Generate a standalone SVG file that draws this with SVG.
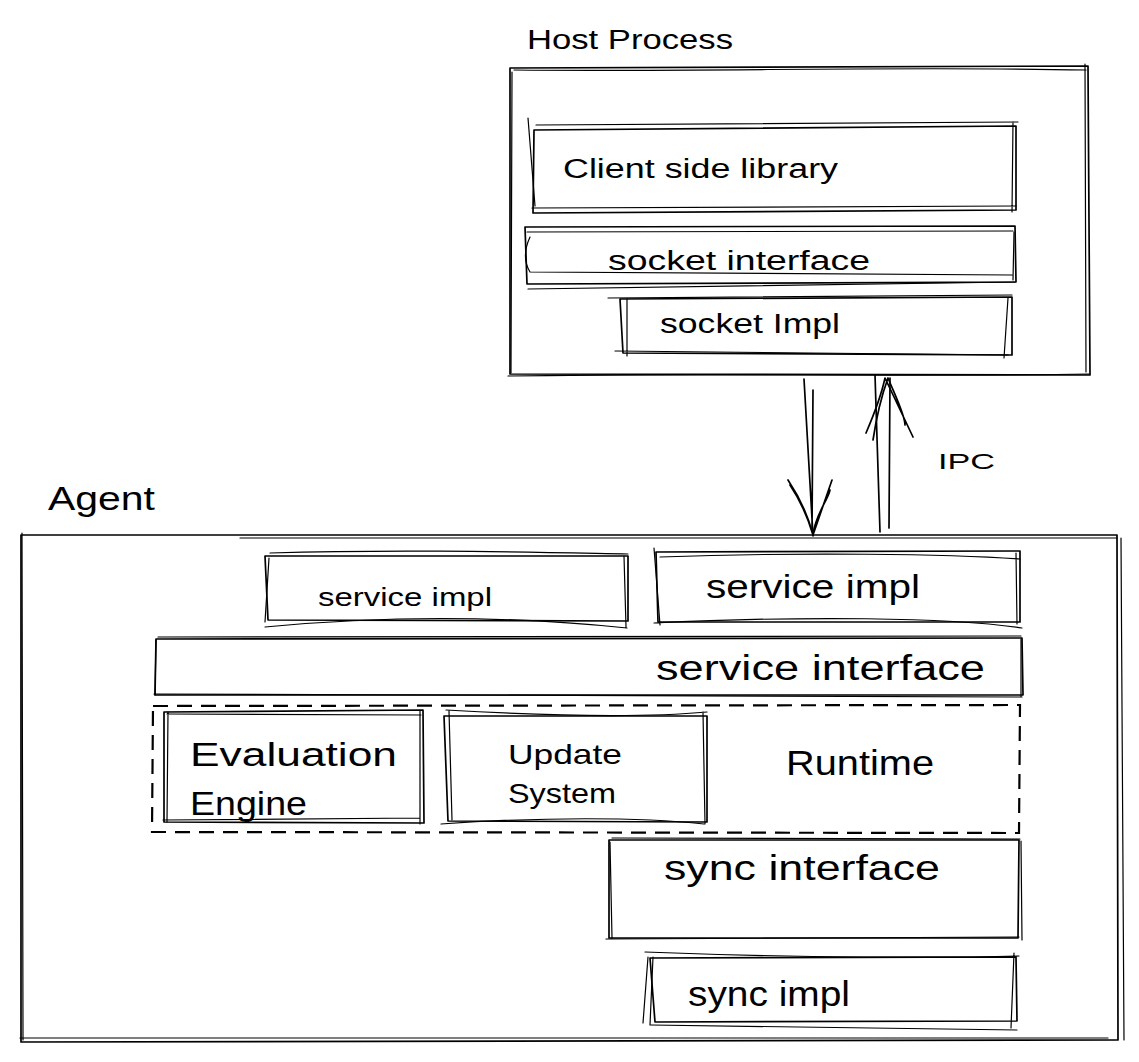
<svg xmlns="http://www.w3.org/2000/svg" width="1139" height="1062" viewBox="0 0 1139 1062">
<defs>
<style>
.s{fill:none;stroke:#000;stroke-width:1.7;stroke-linecap:round;stroke-linejoin:round}
.t{stroke-width:1.2}
.d{fill:none;stroke:#000;stroke-width:2.2;stroke-dasharray:15 9}
text{font-family:"Liberation Sans","DejaVu Sans",sans-serif;fill:#000}
</style>
</defs>
<rect width="1139" height="1062" fill="#fff"/>

<g id="host-process">
<path class="s" d="M510,68 L1088,66 L1090,375 L510,374 Z"/>
<path class="s t" d="M514,70 C700,72 900,66 1086,70 M1085,64 L1086,372 M1089,374 C900,377 700,373 508,376 M512,72 L511,373"/>
<text x="527" y="49" font-size="27" textLength="206" lengthAdjust="spacingAndGlyphs">Host Process</text>
</g>

<g id="client-lib">
<path class="s" d="M534,130 L1016,126 L1016,210 L533,213 Z"/>
<path class="s t" d="M528,118 L535,206 M536,125 L1018,122 M1013,122 L1012,212 M532,208 L1016,206"/>
<text x="563" y="178" font-size="27" textLength="275" lengthAdjust="spacingAndGlyphs">Client side library</text>
</g>

<g id="socket-interface">
<path class="s" d="M525,227 L1015,226 L1016,282 L527,284 Z"/>
<path class="s t" d="M527,232 L1013,231 M1014,232 L1013,280 M530,237 C524,250 524,262 530,272 L1012,275 M528,289 L1015,282"/>
<text x="608" y="270" font-size="27" textLength="262" lengthAdjust="spacingAndGlyphs">socket interface</text>
</g>

<g id="socket-impl">
<path class="s" d="M620,299 L1012,297 L1012,355 L623,353 Z"/>
<path class="s t" d="M608,298 L1012,295 M1008,298 L1004,358 M627,299 L627,356 M615,351 L1008,355"/>
<text x="660" y="333" font-size="27" textLength="180" lengthAdjust="spacingAndGlyphs">socket Impl</text>
</g>

<g id="connectors">
<path class="s" d="M804,379 L813,536 M813,390 L812,530"/>
<path class="s" d="M788,480 C798,495 808,515 813,535 L832,480 M790,485 C800,500 808,518 813,535 C815,515 828,500 830,490"/>
<path class="s" d="M875,375 L880,532 M890,378 L889,528"/>
<path class="s" d="M866,433 C875,412 882,392 885,378 L913,437 M873,440 C876,420 880,400 888,378 C895,395 905,415 905,425"/>
<text x="938" y="469" font-size="22" textLength="57" lengthAdjust="spacingAndGlyphs">IPC</text>
</g>

<g id="agent">
<path class="s" d="M21,535 L1117,535 L1118,1040 L21,1042 Z"/>
<path class="s t" d="M22,533 L23,1040 M240,538 L1117,538 M1121,538 L1124,1040 M20,1038 L1108,1038"/>
<text x="48" y="510" font-size="34" textLength="107" lengthAdjust="spacingAndGlyphs">Agent</text>
</g>

<g id="service-impl-left">
<path class="s" d="M265,556 L628,556 L628,621 L268,620 Z"/>
<path class="s t" d="M270,553 C400,549 520,552 628,554 M624,556 L626,627 M265,627 C400,614 520,617 627,628 M269,558 L265,622"/>
<text x="318" y="606" font-size="26" textLength="174" lengthAdjust="spacingAndGlyphs">service impl</text>
</g>

<g id="service-impl-right">
<path class="s" d="M656,552 L1020,551 L1020,622 L658,622 Z"/>
<path class="s t" d="M660,557 C800,552 950,554 1020,559 M1016,553 L1017,624 M654,623 C800,616 950,617 1022,628 M654,548 L660,625"/>
<text x="706" y="598" font-size="34" textLength="214" lengthAdjust="spacingAndGlyphs">service impl</text>
</g>

<g id="service-interface">
<path class="s" d="M156,639 L1022,638 L1023,695 L155,695 Z"/>
<path class="s t" d="M158,637 L1021,636 M1021,639 L1021,696 M154,694 L1022,697 M156,640 L155,695"/>
<text x="656" y="680" font-size="35" textLength="329" lengthAdjust="spacingAndGlyphs">service interface</text>
</g>

<g id="runtime">
<path class="d" d="M153,706 L1020,705 L1019,833 L152,832 Z"/>
<text x="786" y="775" font-size="35" textLength="148" lengthAdjust="spacingAndGlyphs">Runtime</text>
</g>

<g id="evaluation-engine">
<path class="s" d="M164,712 L423,710 L424,823 L164,822 Z"/>
<path class="s t" d="M167,714 L421,715 M420,711 L420,824 M163,820 L420,818 M168,712 L167,822"/>
<text x="190" y="766" font-size="34" textLength="207" lengthAdjust="spacingAndGlyphs">Evaluation</text>
<text x="190" y="815" font-size="34" textLength="117" lengthAdjust="spacingAndGlyphs">Engine</text>
</g>

<g id="update-system">
<path class="s" d="M444,716 L707,716 L707,822 L448,821 Z"/>
<path class="s t" d="M446,710 C550,716 640,718 707,712 M703,712 L705,824 M441,824 C540,817 640,817 704,824 M449,711 L452,820"/>
<text x="508" y="764" font-size="28" textLength="114" lengthAdjust="spacingAndGlyphs">Update</text>
<text x="508" y="803" font-size="28" textLength="108" lengthAdjust="spacingAndGlyphs">System</text>
</g>

<g id="sync-interface">
<path class="s" d="M609,840 L1019,840 L1018,938 L609,938 Z"/>
<path class="s t" d="M612,838 L1020,839 M1021,841 L1022,940 M606,939 L1019,937 M610,842 L612,938"/>
<text x="664" y="880" font-size="35" textLength="276" lengthAdjust="spacingAndGlyphs">sync interface</text>
</g>

<g id="sync-impl">
<path class="s" d="M650,958 L1016,957 L1017,1021 L655,1022 Z"/>
<path class="s t" d="M645,952 C800,958 950,958 1019,956 M1014,953 L1011,1028 M651,1025 L1017,1030 M648,957 L643,1023 M653,957 L650,1025"/>
<text x="688" y="1006" font-size="35" textLength="162" lengthAdjust="spacingAndGlyphs">sync impl</text>
</g>
</svg>
